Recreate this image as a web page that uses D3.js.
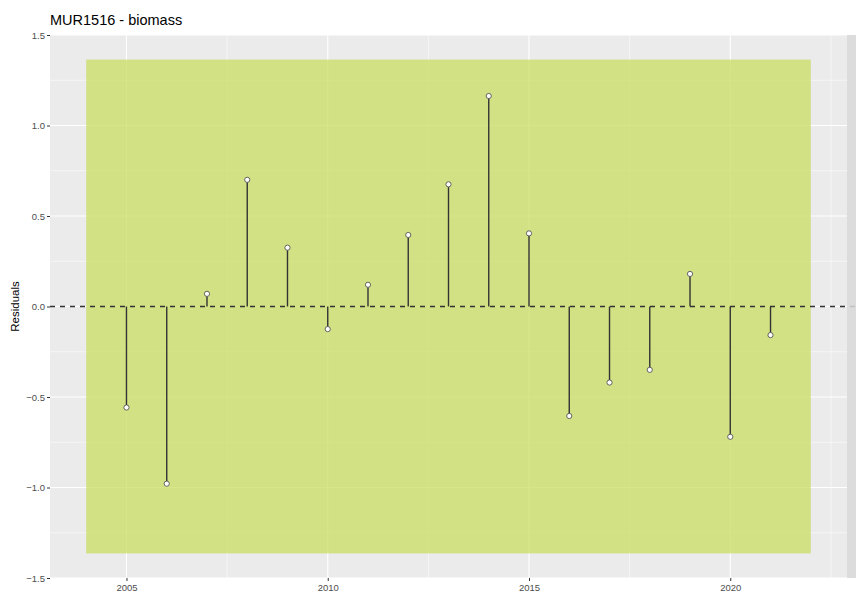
<!DOCTYPE html>
<html><head><meta charset="utf-8">
<script src="https://cdn.jsdelivr.net/npm/d3@7"></script>
<style>body{margin:0;background:#fff}svg{display:block}</style>
</head><body>
<svg id="c" width="856" height="597"></svg>
<script>
const years = [2005,2006,2007,2008,2009,2010,2011,2012,2013,2014,2015,2016,2017,2018,2019,2020,2021];
const residuals = [-0.558,-0.979,0.07,0.70,0.325,-0.125,0.12,0.395,0.675,1.163,0.404,-0.605,-0.42,-0.35,0.18,-0.72,-0.158];
const xTicks = [2005,2010,2015,2020];
const xMinor = [2007.5,2012.5,2017.5,2022.5];
const yTicks = [-1.5,-1.0,-0.5,0.0,0.5,1.0,1.5];
const yMinor = [-1.25,-0.75,-0.25,0.25,0.75,1.25];
const bandX = [2004,2022];
const bandY = [-1.364,1.364];
const title = "MUR1516 - biomass";
const yLabel = "Residuals";

const svg = d3.select("#c");
const L=50, R=847, T=35, B=578;
const x = d3.scaleLinear().domain([2003.1,2022.9]).range([L,R]);
const y = d3.scaleLinear().domain([-1.5,1.5]).range([B,T]);
const font = "'Liberation Sans', Arial, Helvetica, sans-serif";

svg.append("rect").attr("x",L).attr("y",T).attr("width",856-L).attr("height",B-T).attr("fill","#ebebeb");

const g = svg.append("g");
g.selectAll(".ymin").data(yMinor).join("line").attr("x1",L).attr("x2",R).attr("y1",d=>y(d)).attr("y2",d=>y(d)).attr("stroke","#fff").attr("stroke-width",0.55);
g.selectAll(".xmin").data(xMinor).join("line").attr("y1",T).attr("y2",B).attr("x1",d=>x(d)).attr("x2",d=>x(d)).attr("stroke","#fff").attr("stroke-width",0.55);
g.selectAll(".ymaj").data(yTicks).join("line").attr("x1",L).attr("x2",R).attr("y1",d=>y(d)).attr("y2",d=>y(d)).attr("stroke","#fff").attr("stroke-width",1.1);
g.selectAll(".xmaj").data(xTicks).join("line").attr("y1",T).attr("y2",B).attr("x1",d=>x(d)).attr("x2",d=>x(d)).attr("stroke","#fff").attr("stroke-width",1.1);

svg.append("rect").attr("x",x(bandX[0])).attr("y",y(bandY[1])).attr("width",x(bandX[1])-x(bandX[0])).attr("height",y(bandY[0])-y(bandY[1]))
  .attr("fill","#c7dc5a").attr("fill-opacity",0.72);

svg.append("line").attr("x1",L).attr("x2",856).attr("y1",y(0)).attr("y2",y(0)).attr("stroke","#333").attr("stroke-width",1.4).attr("stroke-dasharray","5,5");

// strip at right (drawn on top, semi-opaque)
svg.append("rect").attr("x",R).attr("y",T).attr("width",856-R).attr("height",B-T).attr("fill","#d9d9d9").attr("fill-opacity",0.85);

svg.selectAll(".stem").data(years).join("line")
  .attr("x1",d=>x(d)).attr("x2",d=>x(d)).attr("y1",y(0)).attr("y2",(d,i)=>y(residuals[i]))
  .attr("stroke","#333").attr("stroke-width",1.4);
svg.selectAll(".pt").data(years).join("circle")
  .attr("cx",d=>x(d)).attr("cy",(d,i)=>y(residuals[i])).attr("r",2.6)
  .attr("fill","#fff").attr("stroke","#555").attr("stroke-width",0.9);

// axes
const yAxis = d3.axisLeft(y).tickValues(yTicks).tickFormat(d3.format(".1f")).tickSize(3).tickPadding(2);
const ya = svg.append("g").attr("transform",`translate(${L},0)`).call(yAxis);
const xAxis = d3.axisBottom(x).tickValues(xTicks).tickFormat(d3.format("d")).tickSize(3).tickPadding(3);
const xa = svg.append("g").attr("transform",`translate(0,${B})`).call(xAxis);
[ya,xa].forEach(a=>{
  a.select(".domain").remove();
  a.selectAll(".tick line").attr("stroke","#333").attr("stroke-width",1);
  a.selectAll("text").attr("fill","#4d4d4d").attr("font-size","9.5px").attr("font-family",font);
});

svg.append("text").attr("x",L).attr("y",25).text(title).attr("font-family",font).attr("font-size","14.5px").attr("fill","#000");
svg.append("text").attr("transform",`translate(19,${(T+B)/2}) rotate(-90)`).attr("text-anchor","middle")
  .text(yLabel).attr("font-family",font).attr("font-size","11.5px").attr("fill","#000");
</script>
</body></html>
